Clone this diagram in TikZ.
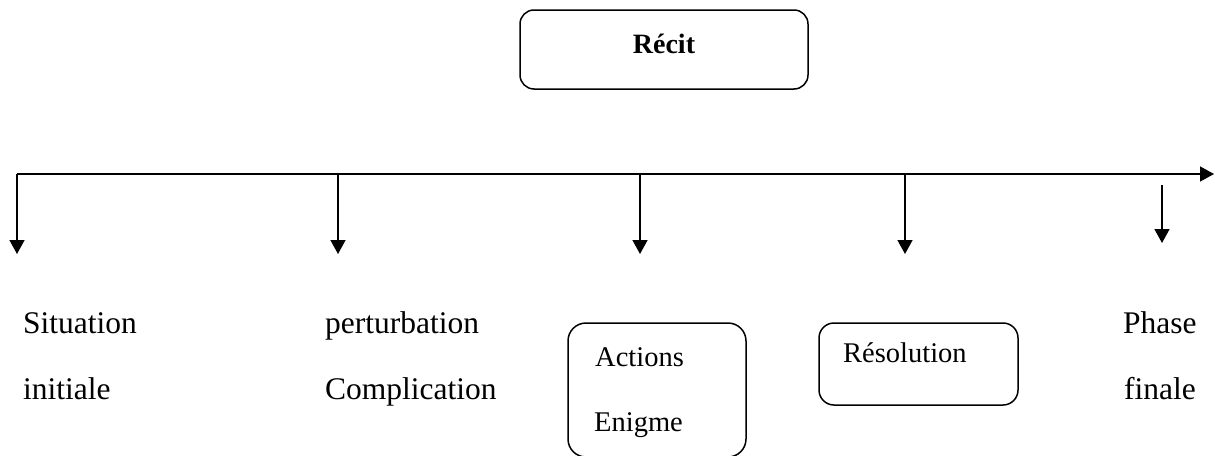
\documentclass[tikz,border=0pt]{standalone}
\usepackage{fontspec}
\setmainfont{Liberation Serif}
\usetikzlibrary{arrows.meta}
\begin{document}
\begin{tikzpicture}[x=1pt,y=-1pt,
  conn/.style={line width=1.5pt,-{Triangle[length=14pt,width=15pt]}},
  box/.style={draw,line width=1.5pt,inner sep=0pt},
  lbl/.style={anchor=base west,inner sep=0pt,font=\fontsize{31.5}{38}\selectfont},
  blbl/.style={anchor=base west,inner sep=0pt,font=\fontsize{28.5}{34}\selectfont}]
\useasboundingbox (0,0) rectangle (1215,455);
% title box
\node[box,rounded corners=14pt,minimum width=288pt,minimum height=79pt] (recit) at (664,49.5) {};
\node[anchor=base,inner sep=0pt,font=\fontsize{28}{34}\selectfont\bfseries] (recitt) at (664,53) {Récit};
% timeline
\coordinate (l0) at (17,174);
\coordinate (l1) at (1214,174);
\draw[conn] (l0) -- (l1);
\coordinate (a1) at (338,174);
\coordinate (a2) at (640,174);
\coordinate (a3) at (905,174);
\coordinate (a4) at (1162,185);
\coordinate (b0) at (17,254);
\coordinate (b1) at (338,254);
\coordinate (b2) at (640,254);
\coordinate (b3) at (905,254);
\coordinate (b4) at (1162,243);
\draw[conn] (l0) -- (b0);
\draw[conn] (a1) -- (b1);
\draw[conn] (a2) -- (b2);
\draw[conn] (a3) -- (b3);
\draw[conn] (a4) -- (b4);
% labels
\node[lbl] (sit) at (23,333) {Situation};
\node[lbl] (ini) at (23,399) {initiale};
\node[lbl] (per) at (325,333) {perturbation};
\node[lbl] (com) at (325,399) {Complication};
\node[lbl] (pha) at (1123,333) {Phase};
\node[lbl] (fin) at (1124,399) {finale};
% boxes
\node[box,rounded corners=18pt,minimum width=178pt,minimum height=134pt] (act) at (657,390) {};
\node[blbl] (actt) at (595,366) {Actions};
\node[blbl] (eni) at (594,431) {Enigme};
\node[box,rounded corners=15pt,minimum width=199pt,minimum height=82pt] (res) at (918.5,364) {};
\node[blbl] (rest) at (843,362) {Résolution};
\end{tikzpicture}
\end{document}
